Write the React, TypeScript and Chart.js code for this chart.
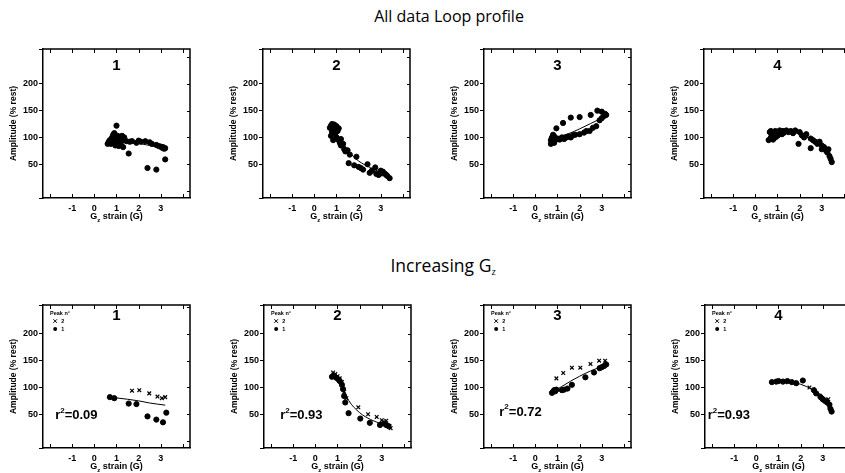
import React, { useEffect, useRef } from "react";
import { Chart, registerables } from "chart.js";
Chart.register(...registerables);

type Pt = [number, number];

const FAMILY = "'Liberation Sans', Arial, sans-serif";
const X_TICKS = [-2, -1, 0, 1, 2, 3, 4];
const Y_TICKS = [0, 50, 100, 150, 200, 250];
const PANEL_NUMBERS = ["1", "2", "3", "4"];
const R2_VALUES = ["0.09", "0.93", "0.72", "0.93"];
const TITLE_TOP = "All data Loop profile";
const TITLE_BOTTOM = "Increasing G";
const Y_TITLE = "Amplitude (% rest)";
const X_MIN = -2.32, X_MAX = 4.32, Y_MIN = -13;

// ---- Top row: all data (circles + fit) ----
const top1Points: Pt[] = [
  [0.6, 88], [0.65, 92], [0.7, 90], [0.7, 95], [0.75, 88], [0.8, 93], [0.8, 100], [0.85, 105], [0.85, 90],
  [0.9, 108], [0.9, 95], [0.95, 85], [0.95, 100], [1.0, 122], [1.0, 98], [1.0, 88], [1.05, 92], [1.05, 103],
  [1.1, 84], [1.1, 97], [1.15, 90], [1.2, 100], [1.2, 86], [1.25, 103], [1.3, 95], [1.3, 82], [1.35, 100],
  [1.45, 93], [1.55, 70], [1.6, 92], [1.7, 93], [1.9, 90], [2.0, 94], [2.1, 92], [2.3, 93], [2.4, 43],
  [2.5, 91], [2.6, 88], [2.8, 40], [2.8, 86], [2.9, 84], [3.0, 83], [3.05, 81], [3.1, 82], [3.15, 79],
  [3.2, 80], [3.2, 59],
];
const top1Fit: Pt[] = [[0.7, 97], [1.5, 93], [2.0, 89], [2.5, 85], [3.2, 79]];

const top2Points: Pt[] = [
  [0.7, 118], [0.75, 122], [0.75, 103], [0.8, 125], [0.8, 110], [0.85, 120], [0.85, 95], [0.9, 124],
  [0.9, 118], [0.95, 108], [1.0, 121], [1.0, 100], [1.05, 112], [1.1, 117], [1.1, 95], [1.15, 90],
  [1.2, 97], [1.2, 85], [1.3, 88], [1.35, 78], [1.4, 74], [1.5, 76], [1.55, 52], [1.6, 68], [1.8, 48],
  [1.9, 64], [2.0, 45], [2.1, 43], [2.2, 40], [2.4, 50], [2.5, 34], [2.6, 38], [2.75, 44], [2.8, 32],
  [2.9, 30], [3.0, 38], [3.05, 33], [3.1, 36], [3.2, 32], [3.25, 30], [3.3, 28], [3.4, 24],
];
const top2Fit: Pt[] = [[0.75, 122], [1.0, 108], [1.25, 92], [1.5, 77], [1.75, 65], [2.0, 56], [2.5, 44], [3.0, 35], [3.4, 28]];

const top3Points: Pt[] = [
  [0.7, 88], [0.7, 95], [0.75, 100], [0.75, 92], [0.8, 105], [0.8, 97], [0.85, 90], [0.85, 102], [0.9, 95],
  [0.95, 117], [1.0, 98], [1.1, 96], [1.2, 100], [1.25, 127], [1.3, 97], [1.4, 100], [1.5, 102], [1.6, 137],
  [1.6, 100], [1.7, 104], [1.8, 105], [2.0, 138], [2.0, 106], [2.2, 109], [2.3, 112], [2.5, 142],
  [2.45, 112], [2.6, 118], [2.75, 121], [2.8, 150], [2.9, 132], [3.0, 148], [3.0, 136], [3.1, 140],
  [3.15, 144], [3.2, 142],
];
const top3Fit: Pt[] = [[0.9, 100], [1.5, 107], [2.0, 116], [2.5, 126], [3.0, 136], [3.2, 140]];

const top4Points: Pt[] = [
  [0.6, 95], [0.65, 110], [0.7, 100], [0.7, 112], [0.75, 105], [0.8, 96], [0.8, 108], [0.9, 112], [0.9, 100],
  [1.0, 110], [1.0, 103], [1.1, 108], [1.1, 113], [1.2, 106], [1.25, 112], [1.3, 109], [1.4, 113],
  [1.5, 110], [1.6, 112], [1.7, 108], [1.8, 113], [1.95, 88], [2.0, 110], [2.1, 104], [2.2, 100],
  [2.3, 106], [2.5, 80], [2.5, 98], [2.6, 95], [2.7, 92], [2.8, 88], [2.9, 92], [3.0, 85], [3.0, 78],
  [3.1, 82], [3.2, 75], [3.25, 72], [3.3, 78], [3.35, 65], [3.4, 60], [3.45, 54],
];
const top4Fit: Pt[] = [[0.7, 108], [1.2, 110], [1.6, 110], [2.0, 106], [2.5, 97], [3.0, 84], [3.4, 70]];

// ---- Bottom row: increasing Gz (peak 1 circles, peak 2 crosses, fit) ----
const bot1Peak1: Pt[] = [[0.7, 82], [0.9, 80], [1.55, 70], [1.9, 69], [2.4, 46], [2.8, 40], [3.1, 35], [3.25, 53]];
const bot1Peak2: Pt[] = [[1.7, 94], [2.03, 95], [2.48, 89], [2.85, 83], [3.05, 80], [3.2, 82]];
const bot1Fit: Pt[] = [[0.7, 82], [1.5, 78], [2.0, 75], [2.5, 71], [3.2, 67]];

const bot2Peak1: Pt[] = [
  [0.75, 120], [0.85, 122], [0.95, 118], [1.05, 115], [1.1, 112], [1.2, 105], [1.25, 97], [1.3, 84],
  [1.35, 72], [1.5, 52], [2.03, 42], [2.46, 34], [2.92, 30], [3.1, 33], [3.2, 30], [3.3, 28],
];
const bot2Peak2: Pt[] = [
  [0.8, 128], [0.9, 125], [1.0, 121], [1.1, 117], [1.2, 110], [1.3, 92], [1.4, 80], [1.94, 63],
  [2.38, 50], [2.77, 45], [3.0, 39], [3.2, 38], [3.35, 28], [3.4, 24],
];
const bot2Fit: Pt[] = [[0.75, 128], [1.0, 116], [1.25, 98], [1.5, 76], [2.0, 53], [2.5, 40], [3.0, 32], [3.4, 26]];

const bot3Peak1: Pt[] = [
  [0.75, 90], [0.8, 92], [0.85, 95], [0.9, 93], [0.95, 96], [1.2, 95], [1.3, 96], [1.45, 98], [1.65, 105],
  [2.26, 119], [2.65, 128], [2.9, 136], [3.0, 138], [3.1, 140], [3.2, 143],
];
const bot3Peak2: Pt[] = [[0.95, 117], [1.26, 127], [1.65, 137], [2.03, 137], [2.49, 144], [2.88, 150], [3.15, 150]];
const bot3Fit: Pt[] = [[0.8, 92], [1.2, 102], [1.6, 112], [2.0, 121], [2.5, 131], [3.0, 139], [3.2, 142]];

const bot4Peak1: Pt[] = [
  [0.7, 110], [0.9, 111], [1.0, 112], [1.2, 111], [1.4, 112], [1.6, 110], [1.8, 108], [2.1, 113], [2.6, 95],
  [2.7, 89], [2.9, 82], [3.0, 78], [3.1, 75], [3.2, 72], [3.3, 68], [3.35, 60], [3.4, 55],
];
const bot4Peak2: Pt[] = [[0.8, 110], [1.3, 110], [1.7, 109], [2.4, 100], [2.85, 85], [3.25, 78], [3.3, 65]];
const bot4Fit: Pt[] = [[0.6, 110], [1.0, 112], [1.5, 111], [2.0, 106], [2.5, 97], [3.0, 84], [3.4, 70]];

interface PanelProps {
  left: number;
  top: number;
  w: number;
  h: number;
  yMax: number;
  num: string;
  circles: Pt[];
  crosses?: Pt[];
  fit: Pt[];
  r2?: string;
  r2At?: Pt;
  legend?: boolean;
}

const PAD_L = 45, PAD_T = 12, PAD_R = 8, PAD_B = 32;

function Panel(p: PanelProps) {
  const ref = useRef<HTMLCanvasElement>(null);
  const cw = p.w + PAD_L + PAD_R;
  const ch = p.h + PAD_T + PAD_B;
  useEffect(() => {
    const toXY = (a: Pt[]) => a.map(([x, y]) => ({ x, y }));
    const datasets: any[] = [
      {
        data: toXY(p.fit), showLine: true, borderColor: "#000", borderWidth: 1,
        pointRadius: 0, cubicInterpolationMode: "monotone", fill: false,
      },
      {
        data: toXY(p.circles), pointStyle: "circle", pointRadius: 2.6,
        backgroundColor: "#000", borderColor: "#000", borderWidth: 1,
      },
    ];
    if (p.crosses) {
      datasets.push({
        data: toXY(p.crosses), pointStyle: "crossRot", pointRadius: 2.6,
        borderColor: "#000", backgroundColor: "#000", borderWidth: 1.2,
      });
    }
    const extras = {
      id: "extras",
      afterDraw(chart: any) {
        const { ctx, chartArea: a } = chart;
        const xs = chart.scales.x, ys = chart.scales.y;
        ctx.save();
        // top and right frame edges with inward ticks
        ctx.strokeStyle = "#000";
        ctx.lineWidth = 1.5;
        ctx.beginPath();
        ctx.moveTo(a.left, a.top); ctx.lineTo(a.right, a.top); ctx.lineTo(a.right, a.bottom);
        ctx.stroke();
        ctx.lineWidth = 1;
        ctx.beginPath();
        for (const v of Y_TICKS) {
          const py = Math.round(ys.getPixelForValue(v)) + 0.5;
          ctx.moveTo(a.right - 3, py); ctx.lineTo(a.right, py);
        }
        for (const v of X_TICKS) {
          const px = Math.round(xs.getPixelForValue(v)) + 0.5;
          ctx.moveTo(px, a.top); ctx.lineTo(px, a.top + 4);
          ctx.moveTo(px, a.bottom); ctx.lineTo(px, a.bottom - 4);
        }
        ctx.stroke();
        ctx.fillStyle = "#000";
        ctx.font = `bold 15px ${FAMILY}`;
        ctx.textAlign = "center";
        ctx.textBaseline = "middle";
        ctx.fillText(p.num, (a.left + a.right) / 2, ys.getPixelForValue(233));
        const big = `bold 9px ${FAMILY}`, small = `bold 6px ${FAMILY}`;
        ctx.textAlign = "left";
        ctx.font = big;
        const wG = ctx.measureText("G").width;
        const rest = " strain (G)";
        const wR = ctx.measureText(rest).width;
        ctx.font = small;
        const wz = ctx.measureText("z").width;
        const total = wG + wz + wR;
        const x0 = (a.left + a.right) / 2 - total / 2;
        const yT = a.bottom + 19;
        ctx.font = big;
        ctx.fillText("G", x0, yT);
        ctx.fillText(rest, x0 + wG + wz, yT);
        ctx.font = small;
        ctx.fillText("z", x0 + wG, yT + 3);
        if (p.r2 && p.r2At) {
          const rx = xs.getPixelForValue(p.r2At[0]);
          const ry = ys.getPixelForValue(p.r2At[1]);
          ctx.font = `bold 13px ${FAMILY}`;
          ctx.fillText("r", rx, ry);
          const wr = ctx.measureText("r").width;
          ctx.font = `bold 8px ${FAMILY}`;
          ctx.fillText("2", rx + wr, ry - 5);
          const w2 = ctx.measureText("2").width;
          ctx.font = `bold 13px ${FAMILY}`;
          ctx.fillText("=" + p.r2, rx + wr + w2, ry);
        }
        if (p.legend) {
          ctx.font = `bold 5.5px ${FAMILY}`;
          ctx.fillText("Peak n°", xs.getPixelForValue(-2.0), ys.getPixelForValue(239));
          const mx = xs.getPixelForValue(-1.77), tx = xs.getPixelForValue(-1.5);
          const y2 = ys.getPixelForValue(224), y1 = ys.getPixelForValue(209);
          ctx.fillText("2", tx, y2);
          ctx.fillText("1", tx, y1);
          ctx.lineWidth = 1;
          ctx.beginPath();
          ctx.moveTo(mx - 1.8, y2 - 1.8); ctx.lineTo(mx + 1.8, y2 + 1.8);
          ctx.moveTo(mx + 1.8, y2 - 1.8); ctx.lineTo(mx - 1.8, y2 + 1.8);
          ctx.stroke();
          ctx.beginPath();
          ctx.arc(mx, y1, 2, 0, Math.PI * 2);
          ctx.fill();
        }
        ctx.restore();
      },
    };
    const tickFont = { family: FAMILY, size: 9, weight: "bold" as const };
    const chart = new Chart(ref.current!, {
      type: "scatter",
      data: { datasets },
      options: {
        responsive: false,
        animation: false,
        devicePixelRatio: 1,
        layout: { padding: { left: 0, top: PAD_T, right: PAD_R, bottom: 0 } },
        plugins: { legend: { display: false }, tooltip: { enabled: false } },
        scales: {
          x: {
            type: "linear", position: "bottom", min: X_MIN, max: X_MAX,
            afterFit: (s: any) => { s.height = PAD_B; },
            grid: { display: true, drawOnChartArea: false, drawTicks: false, color: "#000" },
            border: { display: true, color: "#000", width: 1.5 },
            ticks: {
              stepSize: 1, padding: 5, color: "#000", font: tickFont, autoSkip: false, maxRotation: 0,
              callback: (v: any) => (X_TICKS.includes(Number(v)) ? String(v) : ""),
            },
          },
          y: {
            type: "linear", position: "left", min: Y_MIN, max: p.yMax,
            afterFit: (s: any) => { s.width = PAD_L; },
            grid: { display: true, drawOnChartArea: false, drawTicks: true, tickLength: 4, color: "#000" },
            border: { display: true, color: "#000", width: 1.5 },
            ticks: {
              stepSize: 50, padding: 1, color: "#000", font: tickFont, autoSkip: false,
              callback: (v: any) => (Y_TICKS.includes(Number(v)) ? String(v) : ""),
            },
            title: {
              display: true, text: Y_TITLE, color: "#000",
              font: { family: FAMILY, size: 8.5, weight: "bold" },
              padding: { top: 11, bottom: 0 },
            },
          },
        },
      } as any,
      plugins: [extras],
    });
    return () => chart.destroy();
  }, []);
  return (
    <canvas ref={ref} width={cw} height={ch}
      style={{ position: "absolute", left: p.left - PAD_L, top: p.top - PAD_T, width: cw, height: ch }} />
  );
}

const TOP_LEFTS = [43, 263, 484, 704];
const BOTTOM_LEFTS = [43, 264, 484, 705];
const R2_POS: Pt[] = [[-1.77, 48], [-1.59, 48], [-1.63, 54], [-2.2, 48]];

export default function App() {
  useEffect(() => {
    document.documentElement.style.overflow = "hidden";
    document.body.style.overflow = "hidden";
  }, []);
  const topData = [
    { c: top1Points, f: top1Fit },
    { c: top2Points, f: top2Fit },
    { c: top3Points, f: top3Fit },
    { c: top4Points, f: top4Fit },
  ];
  const botData = [
    { c: bot1Peak1, x: bot1Peak2, f: bot1Fit },
    { c: bot2Peak1, x: bot2Peak2, f: bot2Fit },
    { c: bot3Peak1, x: bot3Peak2, f: bot3Fit },
    { c: bot4Peak1, x: bot4Peak2, f: bot4Fit },
  ];
  return (
    <div style={{ position: "absolute", left: 0, top: 0, width: 845, height: 473, background: "#fff" }}>
      <div style={{ position: "absolute", left: 449, top: 16, transform: "translate(-50%, -50%)", fontFamily: "'Open Sans', sans-serif", fontSize: 16, lineHeight: 1, whiteSpace: "nowrap", color: "#000" }}>
        {TITLE_TOP}
      </div>
      <div style={{ position: "absolute", left: 443, top: 266, transform: "translate(-50%, -50%)", fontFamily: "'Open Sans', sans-serif", fontSize: 17.5, lineHeight: 1, whiteSpace: "nowrap", color: "#000" }}>
        {TITLE_BOTTOM}
        <span style={{ fontSize: 9, verticalAlign: "-0.3em", lineHeight: 0 }}>z</span>
      </div>
      {topData.map((d, i) => (
        <Panel key={"t" + i} left={TOP_LEFTS[i]} top={49} w={147} h={149} yMax={265} num={PANEL_NUMBERS[i]} circles={d.c} fit={d.f} />
      ))}
      {botData.map((d, i) => (
        <Panel key={"b" + i} left={BOTTOM_LEFTS[i]} top={305} w={147} h={143} yMax={254} num={PANEL_NUMBERS[i]}
          circles={d.c} crosses={d.x} fit={d.f} r2={R2_VALUES[i]} r2At={R2_POS[i]} legend />
      ))}
    </div>
  );
}
